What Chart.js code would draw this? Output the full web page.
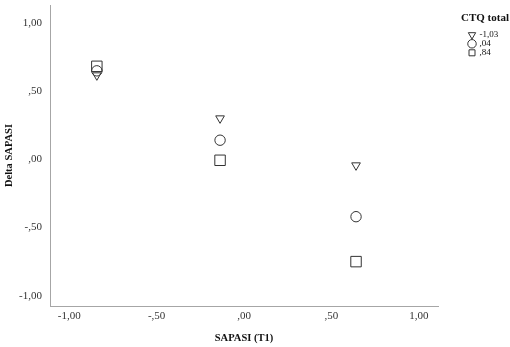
<!DOCTYPE html>
<html>
<head>
<meta charset="utf-8">
<script src="https://cdn.jsdelivr.net/npm/chart.js@4.4.1/dist/chart.umd.min.js"></script>
<style>
    html, body { margin: 0; padding: 0; background: #ffffff; }
    #wrap { width: 510px; height: 347px; position: relative; }
</style>
</head>
<body>
<div id="wrap"><canvas id="scatter"></canvas></div>
<script>
// SAPASI (T1) values at which the three CTQ levels were plotted
const sapasiT1 = [-0.842, -0.137, 0.641];

// Delta SAPASI per CTQ total level
const ctqLevels = ['-1,03', ',04', ',84'];
const deltaLow = [0.615, 0.30, -0.044];
const deltaMid = [0.648, 0.14, -0.42];
const deltaHigh = [0.681, -0.007, -0.749];

const xTickValues = [-1, -0.5, 0, 0.5, 1];
const xTickLabels = ['-1,00', '-,50', ',00', ',50', '1,00'];
const yTickValues = [-1, -0.5, 0, 0.5, 1];
const yTickLabels = ['-1,00', '-,50', ',00', ',50', '1,00'];

const serif = '"Liberation Serif", "Times New Roman", serif';
const ink = '#333333';
const axisGray = '#a6a6a6';

const toPoints = (ys) => sapasiT1.map((x, i) => ({ x, y: ys[i] }));

const markerBase = {
    showLine: false,
    backgroundColor: 'rgba(0,0,0,0)',
    borderColor: ink,
    borderWidth: 1,
    pointBorderWidth: 1
};

const datasets = [
    Object.assign({}, markerBase, {
        label: ctqLevels[0],
        data: toPoints(deltaLow),
        pointStyle: 'triangle',
        rotation: 180,
        pointRotation: 180,
        pointRadius: 5
    }),
    Object.assign({}, markerBase, {
        label: ctqLevels[1],
        data: toPoints(deltaMid),
        pointStyle: 'circle',
        pointRadius: 5.2
    }),
    Object.assign({}, markerBase, {
        label: ctqLevels[2],
        data: toPoints(deltaHigh),
        pointStyle: 'rect',
        pointRadius: 7.4
    })
];

const ticksAt = (values) => (scale) => {
    scale.ticks = values.map(v => ({ value: v }));
};

// keep the legend box a fixed width so the plot ends where the reference does,
// and let the title / markers spill past that narrow box without clipping
const LEGEND_WIDTH = 32;
const fixedLegend = {
    id: 'fixedLegend',
    beforeLayout(chart) {
        const lg = chart.legend;
        if (lg && !lg._fixedWidth) {
            const fit = lg.fit.bind(lg);
            lg.fit = function () {
                fit();
                this.width = LEGEND_WIDTH;
            };
            lg.draw = function () {
                if (this.options.display) this._draw();
            };
            lg._fixedWidth = true;
        }
    }
};

new Chart(document.getElementById('scatter'), {
    type: 'scatter',
    data: { datasets },
    plugins: [fixedLegend],
    options: {
        responsive: true,
        maintainAspectRatio: false,
        animation: false,
        layout: { autoPadding: false, padding: { top: 5, right: 9, bottom: 0, left: 0 } },
        plugins: {
            tooltip: { enabled: false },
            legend: {
                display: true,
                position: 'right',
                align: 'start',
                title: {
                    display: true,
                    text: 'CTQ total',
                    color: '#111111',
                    position: 'center',
                    font: { family: serif, size: 11, weight: 'bold', lineHeight: 1.2 },
                    padding: { top: 7.5, bottom: 4.6 }
                },
                labels: {
                    color: '#111111',
                    usePointStyle: true,
                    boxWidth: 6,
                    boxHeight: 6,
                    padding: 0,
                    font: { family: serif, size: 9 }
                }
            }
        },
        scales: {
            x: {
                type: 'linear',
                min: -1.11,
                max: 1.11,
                afterBuildTicks: ticksAt(xTickValues),
                afterFit: (scale) => {
                    scale.height = 41;
                    scale.paddingLeft = 0;
                    scale.paddingRight = 0;
                },
                grid: { display: false, drawTicks: false },
                border: { display: true, color: axisGray, width: 1 },
                ticks: {
                    color: ink,
                    padding: 4,
                    maxRotation: 0,
                    autoSkip: false,
                    font: { family: serif, size: 11 },
                    callback: (value) => xTickLabels[xTickValues.indexOf(value)]
                },
                title: {
                    display: true,
                    text: 'SAPASI (T1)',
                    color: '#111111',
                    font: { family: serif, size: 10.5, weight: 'bold', lineHeight: 1.2 },
                    padding: { top: 2, bottom: 2 }
                }
            },
            y: {
                type: 'linear',
                min: -1.074,
                max: 1.13,
                afterBuildTicks: ticksAt(yTickValues),
                afterFit: (scale) => {
                    scale.width = 50;
                    scale.paddingTop = 0;
                    scale.paddingBottom = 0;
                },
                grid: { display: false, drawTicks: false },
                border: { display: true, color: axisGray, width: 1 },
                ticks: {
                    color: ink,
                    padding: 8,
                    autoSkip: false,
                    font: { family: serif, size: 11 },
                    callback: (value) => yTickLabels[yTickValues.indexOf(value)]
                },
                title: {
                    display: true,
                    text: 'Delta SAPASI',
                    color: '#111111',
                    font: { family: serif, size: 10.5, weight: 'bold', lineHeight: 1.2 },
                    padding: { top: 3, bottom: 0 }
                }
            },
            gap: {
                // empty strip between the plot and the legend
                type: 'linear',
                position: 'right',
                display: true,
                afterFit: (scale) => {
                    scale.width = 31;
                    scale.paddingTop = 0;
                    scale.paddingBottom = 0;
                },
                grid: { display: false, drawTicks: false },
                border: { display: false },
                ticks: { display: false },
                title: { display: false }
            }
        }
    }
});
</script>
</body>
</html>
